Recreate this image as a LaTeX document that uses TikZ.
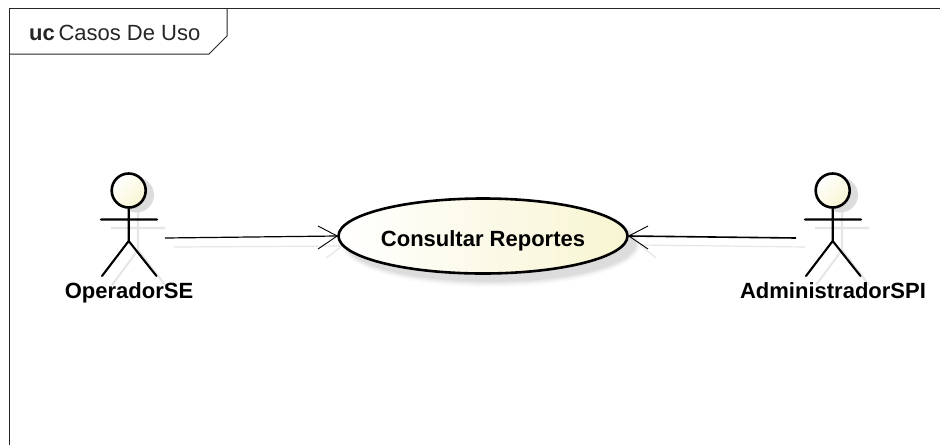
\documentclass[tikz,border=0pt]{standalone}
\usepackage{fontspec}
\setmainfont{Liberation Sans}
\usetikzlibrary{shapes.geometric,calc}
\definecolor{cream}{HTML}{F8F5D2}
\definecolor{shad}{HTML}{DCDCDC}
\definecolor{shadl}{HTML}{E6E6E6}
\tikzset{
  frameline/.style={draw=black!85,line width=1pt},
  actorline/.style={draw=black,line width=2.1pt,line cap=round},
  actorshadow/.style={draw=shadl,line width=2.1pt},
  head/.style={circle,draw=black,line width=2.6pt,minimum size=34pt,inner sep=0pt,left color=white,right color=cream,shading angle=45},
  usecase/.style={ellipse,draw=black,line width=2.6pt,minimum width=289pt,minimum height=75pt,inner sep=0pt,left color=white,right color=cream,font=\bfseries\fontsize{22}{26}\selectfont},
  actorlabel/.style={font=\bfseries\fontsize{22}{26}\selectfont,inner sep=0pt,anchor=base},
  assoc/.style={draw=black,line width=1.2pt},
  tipline/.style={draw=black,line width=.9pt},
  assocshadow/.style={draw=shadl,line width=1.2pt}
}
\begin{document}
\begin{tikzpicture}[x=1pt,y=-1pt]
\useasboundingbox (0,0) rectangle (940,445);
\fill[white] (0,0) rectangle (940,445);
% frame
\coordinate (ftr) at (940,8.5);
\coordinate (fbl) at (9.5,445);
\coordinate (ftl) at (9.5,8.5);
\coordinate (tabtop) at (227,8.5);
\coordinate (tabside) at (227,36);
\coordinate (tabcut) at (209,54);
\coordinate (tabbot) at (9.5,54);
\draw[frameline] (fbl) -- (ftl) -- (ftr);
\draw[frameline] (tabtop) -- (tabside) -- (tabcut) -- (tabbot);
\node[anchor=base west,inner sep=0pt,font=\fontsize{22}{26}\selectfont,text=black!85] (title) at (29,40.5) {\textbf{uc}\,Casos De Uso};
% shadows of the use case
\foreach \g/\o in {5/.07,3/.1,1.5/.14,0/.2}{
  \fill[black!30,opacity=\o] (491,244) ellipse ({145+\g} and {38+\g});
}
\fill[shad] (489,242) ellipse (145 and 38);
% actor shadows
\fill[shad] (136.5,195) circle (17.5);
\draw[actorshadow] (111,228) -- (165,228) (138,212) -- (138,250) -- (112,285) (138,250) -- (165,285);
\fill[shad] (840.5,195) circle (17.5);
\draw[actorshadow] (815,228) -- (869,228) (842,212) -- (842,250) -- (816,285) (842,250) -- (869,285);
% association shadows
\coordinate (sa1) at (174,247);
\coordinate (sa2) at (342,246);
\coordinate (sa3) at (326,258);
\draw[assocshadow] (sa1) -- (sa2) (sa2) -- (sa3);
\coordinate (sb1) at (805,247);
\coordinate (sb2) at (640,245);
\coordinate (sb3) at (656,258);
\draw[assocshadow] (sb1) -- (sb2) (sb2) -- (sb3);
% use case
\node[usecase] (uc) at (483,236) {\raisebox{-10pt}[0pt][0pt]{Consultar Reportes}};
% actor left
\node[head] (headA) at (128.7,190.5) {};
\coordinate (hipA) at (128.7,241);
\coordinate (armAl) at (101,219.5);
\coordinate (armAr) at (157,219.5);
\coordinate (legAl) at (102,276);
\coordinate (legAr) at (156.5,276);
\draw[actorline] (headA.south) -- (hipA) -- (legAl) (hipA) -- (legAr) (armAl) -- (armAr);
\node[actorlabel] (labA) at (129,298.5) {OperadorSE};
% actor right
\node[head] (headB) at (832.7,190.5) {};
\coordinate (hipB) at (832.7,241);
\coordinate (armBl) at (805,219.5);
\coordinate (armBr) at (861,219.5);
\coordinate (legBl) at (806,276);
\coordinate (legBr) at (860.5,276);
\draw[actorline] (headB.south) -- (hipB) -- (legBl) (hipB) -- (legBr) (armBl) -- (armBr);
\node[actorlabel] (labB) at (833,298.5) {AdministradorSPI};
% associations
\coordinate (a1) at (165,238);
\coordinate (a2) at (318,226);
\coordinate (a3) at (318,249);
\draw[assoc] (a1) -- (uc.west);
\draw[tipline] (a2) -- (uc.west) -- (a3);
\coordinate (b1) at (796,238);
\coordinate (b2) at (648,226);
\coordinate (b3) at (648,249);
\draw[assoc,line width=1.6pt] (b1) -- (uc.east);
\draw[tipline] (b2) -- (uc.east) -- (b3);
\end{tikzpicture}
\end{document}
